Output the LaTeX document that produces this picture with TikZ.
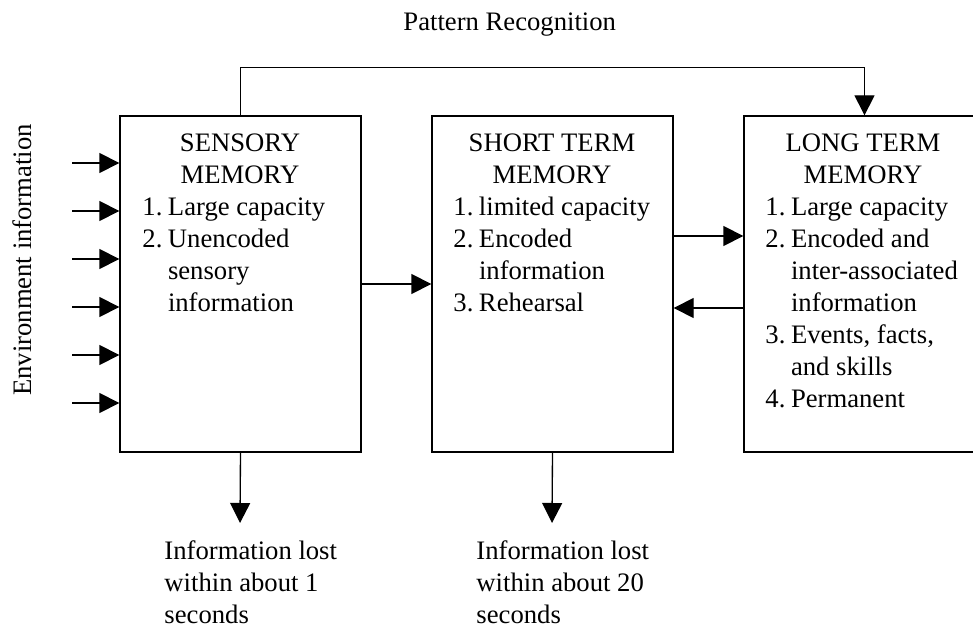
\documentclass[tikz,border=0pt]{standalone}
\usepackage{fontspec}
\setmainfont{Liberation Serif}
\usetikzlibrary{arrows.meta,positioning}

\begin{document}
\begin{tikzpicture}[
  x=0.45pt, y=-0.45pt,
  font=\fontsize{12pt}{14.4pt}\selectfont,
  box/.style={rectangle, draw, line width=0.6pt, minimum width=108.45pt, minimum height=151.2pt, inner sep=0pt},
  head/.style={inner sep=0pt, anchor=base},
  txt/.style={inner sep=0pt, anchor=base west},
  arrow/.style={-{Triangle[length=9pt,width=9pt]}, line width=0.6pt}
]
  \path[use as bounding box, clip] (0,0) rectangle (973,628);

  \node[box] (sensory) at (240.5,284) {};
  \node[box] (short) at (552.5,284) {};
  \node[box] (long) at (864.5,284) {};

  \node[head] (sensoryhead) at (240,152) {\begin{tabular}[t]{@{}c@{}}SENSORY\\MEMORY\end{tabular}};
  \node[head] (shorthead) at (552,152) {\begin{tabular}[t]{@{}c@{}}SHORT TERM\\MEMORY\end{tabular}};
  \node[head] (longhead) at (863,152) {\begin{tabular}[t]{@{}c@{}}LONG TERM\\MEMORY\end{tabular}};

  \node[txt] (sensorylist) at (142,216) {\begin{tabular}[t]{@{}l@{\hspace{2.5pt}}l@{}}
    1. & Large capacity\\
    2. & Unencoded\\
       & sensory\\
       & information
  \end{tabular}};
  \node[txt] (shortlist) at (453,216) {\begin{tabular}[t]{@{}l@{\hspace{2.5pt}}l@{}}
    1. & limited capacity\\
    2. & Encoded\\
       & information\\
    3. & Rehearsal
  \end{tabular}};
  \node[txt] (longlist) at (765,216) {\begin{tabular}[t]{@{}l@{\hspace{2.5pt}}l@{}}
    1. & Large capacity\\
    2. & Encoded and\\
       & inter-associated\\
       & information\\
    3. & Events, facts,\\
       & and skills\\
    4. & Permanent
  \end{tabular}};

  \node[txt] (pattern) at (403,31) {Pattern Recognition};
  \node[head, rotate=90] (env) at (31,260) {Environment information};

  \node[txt] (lost1) at (164,559) {\begin{tabular}[t]{@{}l@{}}Information lost\\within about 1\\seconds\end{tabular}};
  \node[txt] (lost2) at (476,559) {\begin{tabular}[t]{@{}l@{}}Information lost\\within about 20\\seconds\end{tabular}};

  % environment inputs
  \foreach \i/\y in {1/163,2/211,3/259,4/307,5/355,6/403} {
    \coordinate (in\i) at (72,\y);
    \draw[arrow] (in\i) -- (in\i -| sensory.west);
  }

  \draw[arrow] (sensory.north) -- ++(0,-48) -| (long.north);
  \draw[arrow] (sensory.east) -- (short.west);
  \draw[arrow] ([yshift=21.6pt]short.east) -- ([yshift=21.6pt]long.west);
  \draw[arrow] ([yshift=-10.8pt]long.west) -- ([yshift=-10.8pt]short.east);

  \coordinate (drop1) at (240,523);
  \coordinate (drop2) at (552,523);
  \draw[arrow] (sensory.south) -- (drop1);
  \draw[arrow] (short.south) -- (drop2);
\end{tikzpicture}
\end{document}
